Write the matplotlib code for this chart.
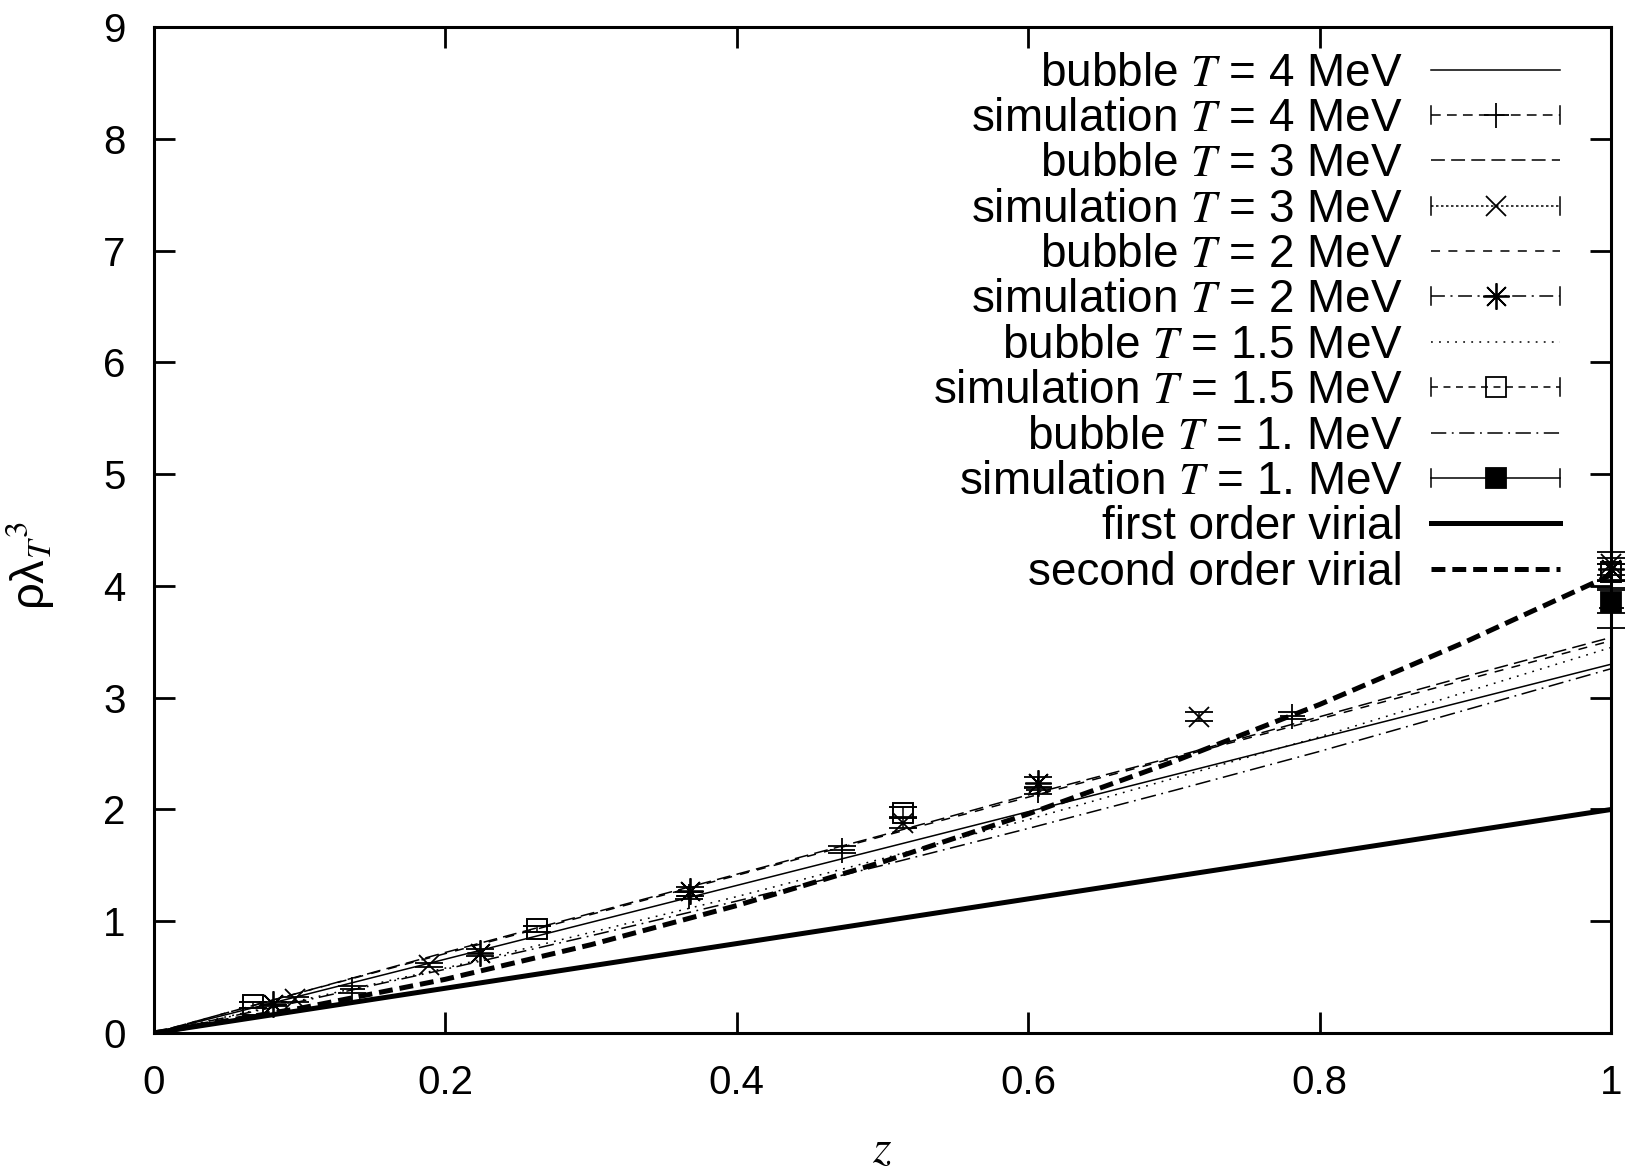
import matplotlib
matplotlib.use('Agg')
import matplotlib.pyplot as plt
from matplotlib.legend_handler import HandlerBase
from matplotlib.lines import Line2D

plt.rcParams['font.family'] = ['Liberation Sans', 'DejaVu Sans']
plt.rcParams['mathtext.fontset'] = 'stix'
plt.rcParams['lines.scale_dashes'] = False

# ---------------- data ----------------
z_grid = [0.0, 0.1, 0.2, 0.3, 0.4, 0.5, 0.6, 0.7, 0.8, 0.9, 1.0]
bubble_T4 = [0.0, 0.33, 0.66, 0.99, 1.32, 1.65, 1.98, 2.31, 2.64, 2.97, 3.30]
bubble_T3 = [0.0, 0.36, 0.72, 1.07, 1.42, 1.77, 2.13, 2.47, 2.83, 3.19, 3.54]
bubble_T2 = [0.0, 0.36, 0.71, 1.06, 1.41, 1.76, 2.11, 2.46, 2.81, 3.16, 3.51]
bubble_T15 = [0.0, 0.29, 0.58, 0.90, 1.22, 1.56, 1.91, 2.28, 2.65, 3.05, 3.45]
bubble_T1 = [0.0, 0.28, 0.57, 0.87, 1.18, 1.50, 1.83, 2.17, 2.52, 2.89, 3.26]
virial_1 = [0.0, 0.2, 0.4, 0.6, 0.8, 1.0, 1.2, 1.4, 1.6, 1.8, 2.0]
virial_2 = [0.0, 0.22, 0.48, 0.79, 1.14, 1.53, 1.96, 2.43, 2.94, 3.50, 4.10]

sim_T4_z = [0.136, 0.367, 0.472, 0.607, 0.781, 1.0]
sim_T4_y = [0.39, 1.23, 1.64, 2.17, 2.84, 3.80]
sim_T4_e = [0.03, 0.03, 0.03, 0.03, 0.03, 0.18]
sim_T3_z = [0.097, 0.189, 0.514, 0.717, 1.0]
sim_T3_y = [0.30, 0.61, 1.88, 2.83, 4.20]
sim_T3_e = [0.02, 0.02, 0.05, 0.04, 0.10]
sim_T2_z = [0.082, 0.224, 0.368, 0.607, 1.0]
sim_T2_y = [0.26, 0.72, 1.27, 2.24, 4.15]
sim_T2_e = [0.02, 0.03, 0.04, 0.05, 0.10]
sim_T15_z = [0.068, 0.263, 0.514, 1.0]
sim_T15_y = [0.25, 0.93, 1.97, 4.12]
sim_T15_e = [0.03, 0.03, 0.05, 0.08]
sim_T1_z = [1.0]
sim_T1_y = [3.86]
sim_T1_e = [0.10]

labels = [
    'bubble $T$ = 4 MeV', 'simulation $T$ = 4 MeV',
    'bubble $T$ = 3 MeV', 'simulation $T$ = 3 MeV',
    'bubble $T$ = 2 MeV', 'simulation $T$ = 2 MeV',
    'bubble $T$ = 1.5 MeV', 'simulation $T$ = 1.5 MeV',
    'bubble $T$ = 1. MeV', 'simulation $T$ = 1. MeV',
    'first order virial', 'second order virial',
]
xticks = [0, 0.2, 0.4, 0.6, 0.8, 1]
xticklabels = ['0', '0.2', '0.4', '0.6', '0.8', '1']
yticks = [0, 1, 2, 3, 4, 5, 6, 7, 8, 9]

# ---------------- styles ----------------
LW = 1.1
LWT = 3.6
ls_b4 = '-'
ls_s4 = (0, (7, 4.5))
ls_b3 = (0, (10, 4.5))
ls_s3 = (0, (1.8, 1.8))
ls_b2 = (0, (6.5, 6))
ls_s2 = (0, (10, 4, 1.5, 4))
ls_b15 = (0, (1.3, 4.5))
ls_s15 = (0, (5, 4))
ls_b1 = (0, (11, 4, 1.3, 4))
ls_v2 = (0, (10, 5))

ast = (8, 2, 0)

fig = plt.figure(figsize=(16.27, 11.69), dpi=100)
ax = fig.add_axes([0.09435, 0.11634, 0.8961, 0.86056])

ax.plot(z_grid, bubble_T4, color='k', lw=LW, linestyle=ls_b4)
ax.plot(z_grid, bubble_T3, color='k', lw=LW, linestyle=ls_b3)
ax.plot(z_grid, bubble_T2, color='k', lw=LW, linestyle=ls_b2)
ax.plot(z_grid, bubble_T15, color='k', lw=LW, linestyle=ls_b15)
ax.plot(z_grid, bubble_T1, color='k', lw=LW, linestyle=ls_b1)
ax.plot(z_grid, virial_1, color='k', lw=LWT, linestyle='-', solid_capstyle='butt')
ax.plot(z_grid, virial_2, color='k', lw=LWT, linestyle=ls_v2, dash_capstyle='butt')

ekw = dict(linestyle='none', color='k', ecolor='k', elinewidth=1.1, capsize=10,
           capthick=1.1, clip_on=False, zorder=5)
ax.errorbar(sim_T4_z, sim_T4_y, yerr=sim_T4_e, marker='+', ms=18, mew=1.3, **ekw)
ax.errorbar(sim_T3_z, sim_T3_y, yerr=sim_T3_e, marker='x', ms=14, mew=1.3, **ekw)
ax.errorbar(sim_T2_z, sim_T2_y, yerr=sim_T2_e, marker=ast, ms=19, mew=1.3, **ekw)
ax.errorbar(sim_T15_z, sim_T15_y, yerr=sim_T15_e, marker='s', ms=15, mew=1.4,
            mfc='none', **ekw)
ax.errorbar(sim_T1_z, sim_T1_y, yerr=sim_T1_e, marker='s', ms=15, mew=1.3,
            mfc='k', **ekw)

ax.set_xlim(0, 1)
ax.set_ylim(0, 9)
ax.set_xticks(xticks)
ax.set_xticklabels(xticklabels)
ax.set_yticks(yticks)
ax.tick_params(axis='both', which='major', direction='in', length=15, width=2.0,
               labelsize=29, top=True, right=True)
ax.tick_params(axis='x', pad=22)
ax.tick_params(axis='y', pad=20)
for s in ax.spines.values():
    s.set_linewidth(2.2)

ax.set_xlabel('$z$', fontsize=34, va='center')
ax.xaxis.set_label_coords(0.5, -0.116)
ax.set_ylabel('ρλ$_{T}$$^{3}$', fontsize=34)
ax.yaxis.set_label_coords(-0.066, 0.465)


# ---------------- legend ----------------
class GPHandler(HandlerBase):
    def __init__(self, ls, lw=LW, marker=None, ms=0, mfc='none', caps=False):
        super().__init__()
        self.ls, self.lw, self.marker, self.ms, self.mfc, self.caps = ls, lw, marker, ms, mfc, caps

    def create_artists(self, legend, orig_handle, xdescent, ydescent, width, height,
                       fontsize, trans):
        yc = height / 2 - ydescent
        x0, x1 = -xdescent, -xdescent + width
        arts = [Line2D([x0, x1], [yc, yc], color='k', lw=self.lw, linestyle=self.ls,
                       dash_capstyle='butt', transform=trans)]
        if self.caps:
            for xx in (x0, x1):
                arts.append(Line2D([xx, xx], [yc - 6.5, yc + 6.5], color='k', lw=1.1,
                                   transform=trans))
        if self.marker is not None:
            arts.append(Line2D([(x0 + x1) / 2], [yc], color='k', marker=self.marker,
                               ms=self.ms, mew=1.3, mfc=self.mfc, mec='k',
                               linestyle='none', transform=trans))
        return arts


handlers = [
    GPHandler(ls_b4),
    GPHandler(ls_s4, marker='+', ms=18, caps=True),
    GPHandler(ls_b3),
    GPHandler(ls_s3, marker='x', ms=14, caps=True),
    GPHandler(ls_b2),
    GPHandler(ls_s2, marker=ast, ms=19, caps=True),
    GPHandler(ls_b15),
    GPHandler(ls_s15, marker='s', ms=15, mfc='none', caps=True),
    GPHandler(ls_b1),
    GPHandler('-', marker='s', ms=15, mfc='k', caps=True),
    GPHandler('-', lw=LWT),
    GPHandler(ls_v2, lw=LWT),
]
proxies = [Line2D([], []) for _ in labels]
leg = ax.legend(proxies, labels, handler_map={p: h for p, h in zip(proxies, handlers)},
                loc='upper right', bbox_to_anchor=(0.965, 0.9756), frameon=False,
                markerfirst=False, fontsize=33, handlelength=2.82, handletextpad=0.62,
                labelspacing=0.03, borderpad=0.0, borderaxespad=0.0)

fig.savefig('out.png', dpi=100)
